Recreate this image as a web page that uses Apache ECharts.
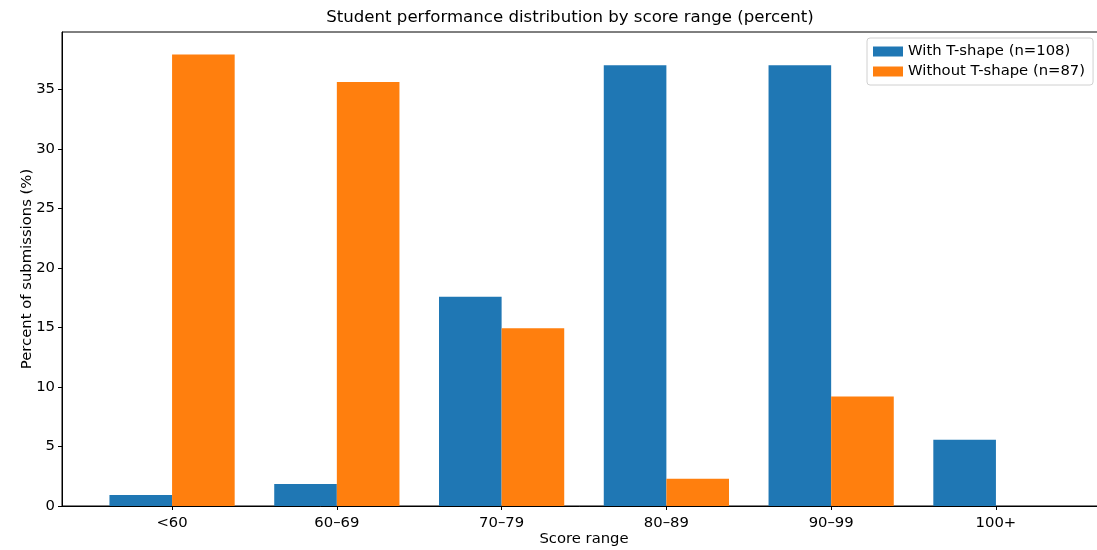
<!DOCTYPE html>
<html>
<head>
<meta charset="utf-8">
<script src="https://cdn.jsdelivr.net/npm/echarts@6/dist/echarts.min.js"></script>
<style>html,body{margin:0;padding:0;background:#fff;}#c{width:1097px;height:550px;}</style>
</head>
<body>
<div id="c"></div>
<script>
const categories = ['<60', '60–69', '70–79', '80–89', '90–99', '100+'];
const withT = [0.93, 1.85, 17.59, 37.04, 37.04, 5.56];
const withoutT = [37.93, 35.63, 14.94, 2.30, 9.20, 0];
const yTicks = [0, 5, 10, 15, 20, 25, 30, 35];
const seriesNames = ['With T-shape (n=108)', 'Without T-shape (n=87)'];

const font = 'DejaVu Sans';
const fs = 14.8;
const idx = categories.map((c, i) => i);
const chart = echarts.init(document.getElementById('c'), null, {renderer: 'canvas'});
chart.setOption({
  animation: false,
  textStyle: {fontFamily: font},
  title: {
    text: 'Student performance distribution by score range (percent)',
    left: 565, top: 4, textAlign: 'center',
    textStyle: {fontFamily: font, fontSize: 16.6, fontWeight: 'normal', color: '#000'}
  },
  legend: {
    orient: 'vertical', left: 867, top: 38,
    itemWidth: 30, itemHeight: 10, itemGap: 5,
    padding: [6, 8, 6, 6],
    borderColor: '#d0d0d0', borderWidth: 1, borderRadius: 3,
    textStyle: {fontFamily: font, fontSize: fs, color: '#000'},
    data: seriesNames.map(n => ({name: n, icon: 'rect'}))
  },
  grid: {left: 62, right: -9, top: 32, bottom: 44, show: true, borderColor: '#000', borderWidth: 1,
         outerBoundsMode: 'none', containLabel: false},
  xAxis: {
    type: 'value', min: -0.668, max: 5.668,
    name: 'Score range', nameLocation: 'middle', nameGap: 26, nameMoveOverlap: false,
    nameTextStyle: {fontFamily: font, fontSize: fs, color: '#000'},
    axisLine: {show: true, onZero: false, lineStyle: {color: '#000'}},
    axisTick: {show: true, length: 4, customValues: idx, lineStyle: {color: '#000'}},
    axisLabel: {customValues: idx, fontFamily: font, fontSize: fs, color: '#000', margin: 10,
      formatter: v => categories[Math.round(v)]},
    splitLine: {show: false}
  },
  yAxis: {
    type: 'value', min: 0, max: 39.83, interval: 5,
    name: 'Percent of submissions (%)', nameLocation: 'middle', nameGap: 27, nameMoveOverlap: false,
    nameTextStyle: {fontFamily: font, fontSize: fs, color: '#000'},
    axisLine: {show: true, onZero: false, lineStyle: {color: '#000'}},
    axisTick: {show: true, length: 4, customValues: yTicks, lineStyle: {color: '#000'}},
    axisLabel: {customValues: yTicks, fontFamily: font, fontSize: fs, color: '#000', margin: 7},
    splitLine: {show: false}
  },
  series: [
    {name: seriesNames[0], type: 'bar', barWidth: '38%', barGap: '0%',
     itemStyle: {color: '#1f77b4'}, data: withT.map((v, i) => [i, v])},
    {name: seriesNames[1], type: 'bar', barWidth: '38%', barGap: '0%',
     itemStyle: {color: '#ff7f0e'}, data: withoutT.map((v, i) => [i, v])}
  ]
});
</script>
</body>
</html>
